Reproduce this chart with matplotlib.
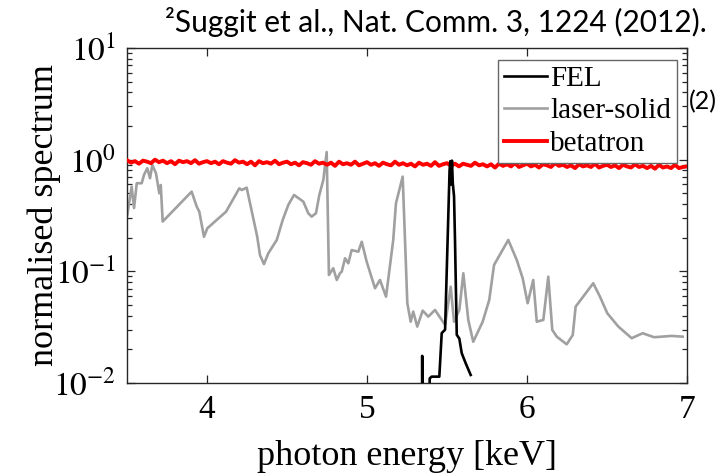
import numpy as np
import matplotlib
matplotlib.use("Agg")
import matplotlib.pyplot as plt
from matplotlib.ticker import LogLocator, FixedLocator, NullFormatter

plt.rcParams['font.family'] = ['Liberation Serif', 'DejaVu Serif']
plt.rcParams['mathtext.fontset'] = 'stix'

# FEL spectrum (keV, normalised)
fel_energy = [5.344, 5.345, 5.347, 5.386, 5.392, 5.404, 5.425, 5.452, 5.467,
              5.488, 5.508, 5.516, 5.521, 5.526, 5.531, 5.536, 5.544, 5.550,
              5.561, 5.577, 5.592, 5.617, 5.648]
fel_spec = [0.004, 0.0175, 0.004, 0.004, 0.0110, 0.0114, 0.0114, 0.0114, 0.028,
            0.030, 0.31, 0.80, 0.97, 0.60, 0.98, 0.62, 0.47, 0.19,
            0.027, 0.025, 0.0185, 0.015, 0.0118]

# laser-solid spectrum
ls_energy = [3.502, 3.529, 3.544, 3.561, 3.592, 3.606, 3.627, 3.644, 3.658, 3.681,
             3.702, 3.711, 3.723, 3.904, 3.936, 3.952, 3.981, 4.002, 4.119, 4.202,
             4.217, 4.248, 4.314, 4.331, 4.356, 4.383, 4.436, 4.473, 4.508, 4.544,
             4.602, 4.633, 4.654, 4.681, 4.702, 4.727, 4.748, 4.762, 4.789, 4.811,
             4.831, 4.842, 4.863, 4.883, 4.904, 4.946, 4.967, 4.998, 5.050, 5.081,
             5.119, 5.164, 5.181, 5.223, 5.252, 5.273, 5.289, 5.314, 5.348, 5.383,
             5.425, 5.488, 5.523, 5.544, 5.577, 5.602, 5.633, 5.664, 5.723, 5.764,
             5.794, 5.883, 5.936, 5.973, 6.004, 6.039, 6.061, 6.102, 6.133, 6.158,
             6.186, 6.248, 6.286, 6.304, 6.414, 6.456, 6.502, 6.571, 6.654, 6.723,
             6.794, 6.904, 6.973]
ls_spec = [0.320, 0.573, 0.369, 0.615, 0.615, 0.730, 0.838, 0.682, 0.897, 0.756,
           0.500, 0.593, 0.279, 0.517, 0.379, 0.342, 0.204, 0.243, 0.342, 0.554,
           0.535, 0.561, 0.204, 0.140, 0.116, 0.145, 0.191, 0.288, 0.393, 0.483,
           0.421, 0.331, 0.309, 0.331, 0.483, 0.658, 1.17, 0.0928, 0.1066, 0.0837,
           0.0961, 0.0993, 0.131, 0.118, 0.155, 0.150, 0.184, 0.122, 0.0705, 0.0837,
           0.0593, 0.191, 0.407, 0.705, 0.0518, 0.0354, 0.0436, 0.0320, 0.0445, 0.0393,
           0.0451, 0.0331, 0.0729, 0.0354, 0.0451, 0.0961, 0.0367, 0.0234, 0.0354, 0.0554,
           0.114, 0.191, 0.1264, 0.0867, 0.0518, 0.0837, 0.0354, 0.0367, 0.0896, 0.0299,
           0.0260, 0.0222, 0.0269, 0.0483, 0.0782, 0.0593, 0.0421, 0.0320, 0.0252, 0.0279,
           0.0257, 0.0264, 0.0260]

# betatron spectrum on a uniform 0.025 keV grid from 3.5 keV
bt_start, bt_step = 3.5, 0.025
bt_spec = [0.99, 0.94, 0.97, 0.92, 0.98, 0.96, 0.93, 1.00, 0.95, 0.98,
           0.93, 0.97, 0.91, 0.98, 0.95, 0.97, 0.93, 0.99, 0.92, 0.95,
           0.97, 0.93, 0.96, 0.91, 0.97, 0.94, 0.92, 0.99, 0.94, 0.96,
           0.91, 0.96, 0.89, 0.97, 0.93, 0.95, 0.92, 0.98, 0.91, 0.94,
           0.96, 0.91, 0.94, 0.89, 0.95, 0.93, 0.90, 0.97, 0.92, 0.94,
           0.90, 0.94, 0.88, 0.96, 0.91, 0.93, 0.90, 0.96, 0.89, 0.92,
           0.95, 0.90, 0.93, 0.88, 0.94, 0.91, 0.89, 0.96, 0.90, 0.93,
           0.89, 0.92, 0.87, 0.94, 0.90, 0.92, 0.88, 0.95, 0.88, 0.91,
           0.93, 0.88, 0.92, 0.87, 0.92, 0.90, 0.88, 0.94, 0.89, 0.91,
           0.87, 0.91, 0.85, 0.92, 0.88, 0.91, 0.87, 0.93, 0.86, 0.89,
           0.92, 0.87, 0.90, 0.85, 0.91, 0.89, 0.86, 0.93, 0.88, 0.90,
           0.86, 0.89, 0.84, 0.91, 0.87, 0.89, 0.86, 0.92, 0.85, 0.88,
           0.90, 0.86, 0.89, 0.84, 0.90, 0.87, 0.85, 0.91, 0.86, 0.88,
           0.84, 0.88, 0.83, 0.90, 0.85, 0.87, 0.84, 0.90, 0.84, 0.86,
           0.87]
bt_energy = bt_start + bt_step * np.arange(len(bt_spec))

x_ticks = [4, 5, 6, 7]
y_ticks = [1e-2, 1e-1, 1e0, 1e1]
y_ticklabels = [r'$10^{-2}$', r'$10^{-1}$', r'$10^{0}$', r'$10^{1}$']

fig = plt.figure(figsize=(7.17, 4.75), dpi=100)
ax = fig.add_axes([127 / 717, 92 / 475, 560 / 717, 335 / 475])

ax.plot(ls_energy, ls_spec, color='#a0a0a0', lw=1.9, label='laser-solid', zorder=2)
ax.plot(bt_energy, bt_spec, color='#ff0000', lw=2.8, label='betatron', zorder=3)
ax.plot(fel_energy, fel_spec, color='black', lw=1.9, label='FEL', zorder=4)

ax.set_yscale('log')
ax.set_xlim(3.5, 7)
ax.set_ylim(1e-2, 1e1)
ax.xaxis.set_major_locator(FixedLocator(x_ticks))
ax.set_xticklabels([str(t) for t in x_ticks])
ax.yaxis.set_major_locator(FixedLocator(y_ticks))
ax.set_yticklabels(y_ticklabels)
ax.yaxis.set_minor_locator(LogLocator(base=10, subs=np.arange(2, 10)))
ax.yaxis.set_minor_formatter(NullFormatter())

ax.tick_params(which='both', direction='in', top=True, right=True,
               color='#262626', width=0.9)
ax.tick_params(which='major', length=6, labelsize=24, pad=8)
ax.tick_params(which='minor', length=3.5)
for s in ax.spines.values():
    s.set_color('#262626')
    s.set_linewidth(1.0)

ax.set_xlabel('photon energy [keV]', fontsize=26, labelpad=11)
ax.set_ylabel('normalised spectrum', fontsize=26)
ax.yaxis.set_label_coords(-0.118, 0.5)

handles, labels = ax.get_legend_handles_labels()
order = [2, 0, 1]
leg = ax.legend([handles[i] for i in order], [labels[i] for i in order],
                loc='upper right', bbox_to_anchor=((677 - 127) / 560, (383 - 60) / 335),
                fontsize=21, frameon=True, fancybox=False, framealpha=1,
                edgecolor='#666666', borderpad=0.2, handlelength=1.5,
                handletextpad=0.1, labelspacing=0.2, borderaxespad=0)
leg.get_frame().set_linewidth(1.0)
leg.set_zorder(5)

fig.text(707 / 717, 1 - 22 / 475, '²Suggit et al., Nat. Comm. 3, 1224 (2012).',
         ha='right', va='center', fontsize=21.5, family=['Lato', 'DejaVu Sans'])
fig.text(689 / 717, 1 - 102 / 475, '(2)', ha='left', va='center',
         fontsize=18, family=['Lato', 'DejaVu Sans'])

fig.savefig('out.png', dpi=100)
